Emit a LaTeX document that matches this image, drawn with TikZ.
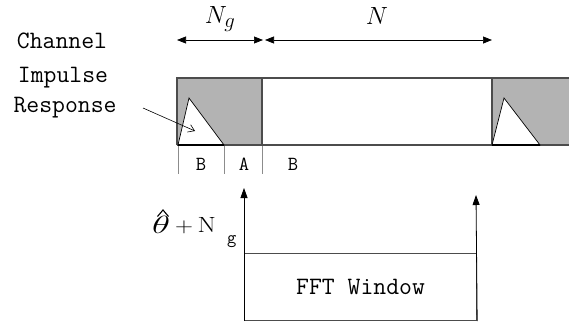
\documentclass[tikz,border=0pt]{standalone}
\usetikzlibrary{arrows.meta}
\usepackage{graphicx}
\definecolor{guardgray}{HTML}{B3B3B3}
\tikzset{
  barline/.style={draw=black!70, line width=1.2pt},
  tickline/.style={draw=black!45, line width=0.8pt},
  dimarrow/.style={draw=black, line width=0.7pt, {Triangle[length=9pt,width=7pt]}-{Triangle[length=9pt,width=7pt]}},
  uparrow/.style={draw=black, line width=0.8pt, -{Triangle[length=10pt,width=7pt]}},
  lbl/.style={inner sep=0pt, font=\ttfamily\fontsize{20}{20}\selectfont},
  chlbl/.style={inner sep=0pt, font=\ttfamily\fontsize{25}{25}\selectfont},
  tri/.style={fill=white, draw=black, line width=0.7pt}
}
\begin{document}
\begin{tikzpicture}[x=1pt,y=-1pt]
\useasboundingbox (0,0) rectangle (569,327);
% guard regions
\fill[guardgray] (177,78) rectangle (262,145);
\fill[guardgray] (492,78) rectangle (569,145);
% bar lines
\draw[barline] (177,145) -- (177,78) -- (569,78);
\draw[barline] (177,145) -- (569,145);
\draw[barline] (262,78) -- (262,145);
\draw[barline] (492,78) -- (492,145);
% triangles
\draw[tri] (178,145) -- (189,98) -- (224,145) -- cycle;
\draw[tri] (492,145) -- (504,98) -- (540,145) -- cycle;
\draw[black, line width=1.3pt] (178,145) -- (224,145);
\draw[black, line width=1.3pt] (492,145) -- (540,145);
% ticks
\draw[tickline] (178,146) -- (178,174);
\draw[tickline] (224,146) -- (224,174);
\draw[tickline] (262,146) -- (262,174);
\node[lbl] (b1) at (201,164) {B};
\node[lbl] (a1) at (244,164) {A};
\node[lbl] (b2) at (293,164) {B};
% dimension arrows
\coordinate (ngL) at (177,40);
\coordinate (ngR) at (263,40);
\coordinate (nL) at (265,40);
\coordinate (nR) at (492,40);
\draw[dimarrow] (ngL) -- (ngR);
\draw[dimarrow] (nL) -- (nR);
\node[inner sep=0pt, font=\fontsize{24.88}{25}\selectfont] (ng) at (220,19) {$N_g$};
\node[inner sep=0pt, font=\fontsize{24.88}{25}\selectfont] (n) at (377,16) {$N$};
% channel impulse response label
\node[chlbl] (ch1) at (62,41) {Channel};
\node[chlbl] (ch2) at (63,78) {Impulse};
\node[chlbl] (ch3) at (65,108) {Response};
\coordinate (chs) at (143,108);
\coordinate (che) at (195,131);
\draw[black, line width=0.6pt, -{Straight Barb[length=6pt,width=8pt]}] (chs) -- (che);
% FFT window
\node[draw=black!70, line width=1.2pt, minimum width=232pt, minimum height=67pt, anchor=north west, inner sep=0pt, font=\ttfamily\fontsize{25}{25}\selectfont] (fft) at (244,253) {FFT Window};
\coordinate (upL) at (244,188);
\coordinate (upR) at (476,195);
\draw[uparrow] (fft.south west) -- (upL);
\draw[uparrow] (fft.south east) -- (upR);
% theta label
\node[inner sep=0pt, anchor=base west, font=\fontsize{24.88}{25}\selectfont] (th) at (152,233)
  {\scalebox{1.5}[1]{$\theta$}};
\draw[black, line width=1.1pt, line join=miter] (157.5,216.5) -- (163,210) -- (168.5,216.5);
\node[inner sep=0pt, anchor=base west, font=\fontsize{22}{22}\selectfont] (pl) at (175,232.5)
  {\scalebox{1.2}[1]{$+$\,N}};
\node[inner sep=0pt, anchor=base west, font=\ttfamily\fontsize{18}{18}\selectfont] (gsub) at (227,243) {g};
\end{tikzpicture}
\end{document}
